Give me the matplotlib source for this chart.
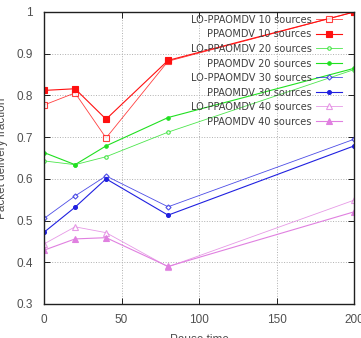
import matplotlib
matplotlib.use("Agg")
import matplotlib.pyplot as plt
from matplotlib import font_manager

# pause time (x) and packet delivery fraction for each series
pause = [0, 20, 40, 80, 200]

lo_10 = [0.777, 0.806, 0.698, 0.882, 1.0]
pp_10 = [0.812, 0.816, 0.743, 0.884, 1.0]
lo_20 = [0.643, 0.634, 0.653, 0.712, 0.862]
pp_20 = [0.663, 0.634, 0.679, 0.747, 0.865]
lo_30 = [0.505, 0.559, 0.607, 0.533, 0.695]
pp_30 = [0.472, 0.532, 0.600, 0.513, 0.679]
lo_40 = [0.444, 0.485, 0.471, 0.389, 0.549]
pp_40 = [0.429, 0.456, 0.459, 0.390, 0.521]

labels = ["LO-PPAOMDV 10 sources", "PPAOMDV 10 sources",
          "LO-PPAOMDV 20 sources", "PPAOMDV 20 sources",
          "LO-PPAOMDV 30 sources", "PPAOMDV 30 sources",
          "LO-PPAOMDV 40 sources", "PPAOMDV 40 sources"]

plt.rcParams['font.family'] = ['Liberation Sans', 'DejaVu Sans']
txt_col = '#505050'

# look for an upright, regular narrow face for the legend
narrow = [f for f in font_manager.fontManager.ttflist
          if f.style == 'normal' and f.weight in (400, 'normal', 'regular')
          and (f.stretch in ('condensed', 'semi-condensed')
               or 'Narrow' in f.name or 'Condensed' in f.name)]
if narrow:
    leg_font = font_manager.FontProperties(
        fname=sorted(narrow, key=lambda f: f.fname)[0].fname, size=7.8)
else:
    leg_font = font_manager.FontProperties(family='Liberation Sans', size=7.0)

fig = plt.figure(figsize=(3.61, 3.38), dpi=100)
ax = fig.add_axes([0.122, 0.1006, 0.859, 0.8639])

red = '#ff1010'
green = '#20e020'
blue = '#2020e0'
pink = '#e080e0'

# (values, color, marker, filled, size)
series = [
    (lo_10, red, 's', False, 4.5),
    (pp_10, red, 's', True, 4.5),
    (lo_20, green, 'o', False, 2.5),
    (pp_20, green, 'o', True, 2.5),
    (lo_30, blue, 'D', False, 2.6),
    (pp_30, blue, 'o', True, 2.8),
    (lo_40, pink, '^', False, 4.5),
    (pp_40, pink, '^', True, 4.5),
]
for (vals, col, mk, filled, ms), lab in zip(series, labels):
    ax.plot(pause, vals, color=col, marker=mk, markersize=ms,
            markerfacecolor=col if filled else 'white',
            markeredgecolor=col, markeredgewidth=0.8,
            linewidth=0.8 if filled else 0.6, alpha=1.0 if filled else 0.8,
            label=lab)

ax.set_xlim(0, 200)
ax.set_ylim(0.3, 1.0)
ax.set_xticks([0, 50, 100, 150, 200])
ax.set_yticks([0.3, 0.4, 0.5, 0.6, 0.7, 0.8, 0.9, 1.0])
ax.set_yticklabels(['0.3', '0.4', '0.5', '0.6', '0.7', '0.8', '0.9', '1'])
ax.grid(True, linestyle=':', color='#b0b0b0', linewidth=0.7)
ax.tick_params(direction='in', top=True, right=True, length=4, width=0.6,
               labelsize=8.5, labelcolor=txt_col, pad=7)
ax.tick_params(axis='y', pad=8)
for sp in ax.spines.values():
    sp.set_linewidth(1.0)
    sp.set_color('#202020')

ax.set_xlabel('Pause time', fontsize=8.5, color=txt_col)
ax.set_ylabel('Packet delivery fraction', fontsize=8.5, color=txt_col)
ax.xaxis.set_label_coords(0.5, -0.104)
ax.yaxis.set_label_coords(-0.117, 0.5)

leg = ax.legend(loc='upper right', bbox_to_anchor=(0.961, 0.99),
                frameon=False, markerfirst=False, prop=leg_font,
                handlelength=2.4, handletextpad=0.4, labelspacing=0.42,
                borderpad=0, borderaxespad=0)
for t in leg.get_texts():
    t.set_color('#404040')

fig.savefig('out.png', dpi=100)
